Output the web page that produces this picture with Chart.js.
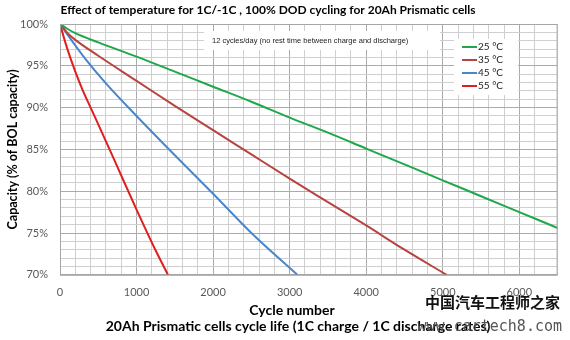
<!DOCTYPE html>
<html>
<head>
<meta charset="utf-8">
<script src="https://cdn.jsdelivr.net/npm/chart.js@4.4.0/dist/chart.umd.min.js"></script>
<style>
  html, body { margin: 0; padding: 0; background: #fff; }
  #wrap { width: 570px; height: 340px; position: relative; }
</style>
</head>
<body>
<div id="wrap"><canvas id="cyclechart"></canvas></div>
<script>
// du lieu doc tu hinh
var seriesLabels = ["25 °C", "35 °C", "45 °C", "55 °C"];
var seriesColors = ["#1FA84A", "#B8443F", "#4A86CC", "#E01E1E"];

var cycles25 = [0, 100, 200, 500, 1000, 1500, 2000, 2500, 3000, 3500, 4000, 4500, 5000, 5500, 6000, 6500];
var cap25    = [100, 99.4, 98.9, 97.8, 96.1, 94.3, 92.5, 90.7, 88.8, 87.0, 85.1, 83.2, 81.3, 79.4, 77.5, 75.6];

var cycles35 = [0, 100, 200, 500, 1000, 1500, 2000, 2500, 3000, 3500, 4000, 4500, 5050];
var cap35    = [100, 98.9, 98.1, 96.2, 93.2, 90.2, 87.3, 84.4, 81.5, 78.7, 75.9, 73.0, 70.0];

var cycles45 = [0, 100, 300, 600, 1000, 1500, 2000, 2500, 3100];
var cap45    = [100, 98.7, 96.2, 92.9, 89.0, 84.3, 79.7, 75.0, 70.0];

var cycles55 = [0, 50, 100, 200, 300, 400, 500, 750, 1000, 1250, 1410];
var cap55    = [100, 98.4, 96.9, 94.3, 92.0, 90.0, 88.0, 82.9, 77.8, 72.9, 70.0];

var xMajorTicks = [0, 1000, 2000, 3000, 4000, 5000, 6000];
var yMajorTicks = [70, 75, 80, 85, 90, 95, 100];

var titleText = "Effect of temperature for 1C/-1C , 100% DOD cycling for 20Ah Prismatic cells";
var noteText = "12 cycles/day (no rest time between charge and discharge)";
var xTitleText = "Cycle number";
var captionText = "20Ah Prismatic cells cycle life (1C charge / 1C discharge rates)";

function toPoints(xs, ys) {
    var pts = [];
    for (var i = 0; i < xs.length; i++) pts.push({ x: xs[i], y: ys[i] });
    return pts;
}

var allX = [cycles25, cycles35, cycles45, cycles55];
var allY = [cap25, cap35, cap45, cap55];
var datasets = [];
for (var i = 0; i < seriesLabels.length; i++) {
    datasets.push({
        label: seriesLabels[i],
        data: toPoints(allX[i], allY[i]),
        borderColor: seriesColors[i],
        backgroundColor: seriesColors[i],
        borderWidth: 2,
        pointRadius: 0,
        cubicInterpolationMode: "monotone",
        fill: false
    });
}

// ve tieu de, ghi chu, chu thich
var extrasPlugin = {
    id: "extras",
    afterDraw: function (chart) {
        var c = chart.ctx;
        var area = chart.chartArea;
        c.save();
        // tieu de
        c.fillStyle = "#000";
        c.font = "bold 12px Lato";
        c.textAlign = "center";
        c.textBaseline = "middle";
        c.fillText(titleText, 268, 10);

        // o ghi chu
        c.fillStyle = "#fff";
        c.fillRect(204, 31, 236, 19);
        c.fillStyle = "#222";
        c.font = "7.5px 'Liberation Sans'";
        c.textAlign = "left";
        c.fillText(noteText, 212, 41);

        // chu thich
        c.fillStyle = "#fff";
        c.fillRect(454, 39, 64, 56);
        c.font = "10px Lato";
        chart.data.datasets.forEach(function (ds, k) {
            var y = 47 + k * 13;
            c.strokeStyle = ds.borderColor;
            c.lineWidth = 2;
            c.beginPath();
            c.moveTo(462, y);
            c.lineTo(477, y);
            c.stroke();
            c.fillStyle = "#222";
            c.fillText(ds.label, 478, y);
        });

        // khung vung ve
        c.strokeStyle = "#A6A6A6";
        c.lineWidth = 1;
        c.strokeRect(area.left + 0.5, area.top + 0.5, area.right - area.left - 1, area.bottom - area.top);

        // tieu de truc x va dong chu duoi cung
        c.fillStyle = "#000";
        c.font = "bold 14px Lato";
        c.textAlign = "center";
        c.fillText(xTitleText, 292, 310);
        c.fillText(captionText, 298, 326);

        // watermark
        c.fillStyle = "#111";
        c.font = "bold 15px 'Noto Sans CJK SC'";
        c.textAlign = "right";
        c.fillText("中国汽车工程师之家", 560, 302);
        c.fillStyle = "#555";
        c.font = "15px 'DejaVu Sans Mono'";
        c.fillText("www.cartech8.com", 562, 327);
        c.restore();
    }
};

var ctx = document.getElementById("cyclechart").getContext("2d");
var myChart = new Chart(ctx, {
    type: "line",
    data: { datasets: datasets },
    options: {
        responsive: true,
        maintainAspectRatio: false,
        animation: false,
        layout: { padding: { top: 24, right: 7, bottom: 30, left: 5 } },
        plugins: {
            legend: { display: false },
            tooltip: { enabled: false }
        },
        scales: {
            x: {
                type: "linear",
                min: 0,
                max: 6500,
                border: { color: "#A6A6A6" },
                ticks: {
                    stepSize: 200,
                    maxTicksLimit: 100,
                    autoSkip: false,
                    maxRotation: 0,
                    color: "#595959",
                    font: { family: "Lato", size: 11 },
                    padding: 11,
                    callback: function (v) { return xMajorTicks.indexOf(v) >= 0 ? String(v) : " "; }
                },
                grid: {
                    drawTicks: false,
                    color: function (c) { return (c.tick && c.tick.value % 1000 === 0) ? "#ABABAB" : "#CFCFCF"; },
                    lineWidth: 1
                }
            },
            y: {
                min: 70,
                max: 100,
                border: { color: "#A6A6A6" },
                afterFit: function (scale) { scale.width = 55; },
                ticks: {
                    stepSize: 1,
                    maxTicksLimit: 100,
                    autoSkip: false,
                    color: "#595959",
                    font: { family: "Lato", size: 11 },
                    padding: 12,
                    callback: function (v) { return yMajorTicks.indexOf(v) >= 0 ? v + "%" : " "; }
                },
                grid: {
                    drawTicks: false,
                    color: function (c) { return (c.tick && c.tick.value % 5 === 0) ? "#ABABAB" : "#CFCFCF"; },
                    lineWidth: 1
                },
                title: {
                    display: true,
                    text: "Capacity (% of BOL capacity)",
                    color: "#000",
                    font: { family: "Lato", size: 12.5, weight: "bold" },
                    padding: { top: 0, bottom: 0 }
                }
            }
        }
    },
    plugins: [extrasPlugin]
});
</script>
</body>
</html>
